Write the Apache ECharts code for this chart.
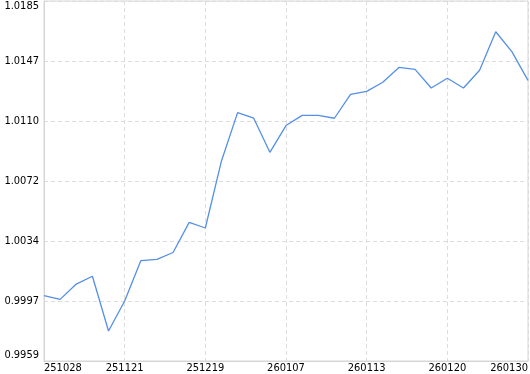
<!DOCTYPE html>
<html>
<head>
<meta charset="utf-8">
<script src="https://cdn.jsdelivr.net/npm/echarts@6/dist/echarts.min.js"></script>
<style>
html,body{margin:0;padding:0;background:#fff;}
#chart{width:530px;height:374px;}
</style>
</head>
<body>
<div id="chart"></div>
<script>
var categories = ['251028','251103','251107','251112','251117','251121','251128','251205','251210','251215',
  '251219','251224','251229','251231','260105','260107','260108','260109','260110','260112',
  '260113','260114','260115','260116','260119','260120','260122','260123','260127','260128','260130'];
var values = [1.0000,0.99977,1.00073,1.00122,0.99778,0.99967,1.00220,1.00228,1.00271,1.00460,
  1.00425,1.00846,1.01149,1.01114,1.00900,1.01068,1.01132,1.01132,1.01114,1.01264,
  1.01283,1.01340,1.01433,1.01421,1.01304,1.01365,1.01304,1.01415,1.01657,1.01532,1.01352];
var yTickLabels = ['0.9959','0.9997','1.0034','1.0072','1.0110','1.0147','1.0185'];
var yMin = 0.9959, yMax = 1.0185;

var chart = echarts.init(document.getElementById('chart'), null, {renderer:'canvas'});
var fontFamily = '"DejaVu Sans Condensed", "Liberation Sans", sans-serif';
chart.setOption({
  animation: false,
  grid: {left: 44, right: 2, top: 1, bottom: 13, show: true, borderColor: '#d6d6d6', borderWidth: 1,
    containLabel: false, outerBoundsMode: 'none'},
  xAxis: {
    type: 'category', data: categories, boundaryGap: false,
    axisLine: {show: true, lineStyle: {color: '#d6d6d6'}},
    axisTick: {show: false},
    axisLabel: {interval: 4, color: '#000', fontSize: 11, fontFamily: fontFamily, margin: 2,
      alignMinLabel: 'left', alignMaxLabel: 'right', hideOverlap: false},
    splitLine: {show: true, interval: 4, lineStyle: {color: '#dcdcdc', type: [4, 3]}}
  },
  yAxis: {
    type: 'value', min: yMin, max: yMax, interval: (yMax - yMin) / 6,
    axisLine: {show: true, lineStyle: {color: '#d6d6d6'}},
    axisTick: {show: false},
    axisLabel: {color: '#000', fontSize: 11, fontFamily: fontFamily, margin: 5,
      verticalAlignMinLabel: 'bottom', verticalAlignMaxLabel: 'top',
      formatter: function (v) {
        var i = Math.round((v - yMin) / ((yMax - yMin) / 6));
        return yTickLabels[i] !== undefined ? yTickLabels[i] : v.toFixed(4);
      }},
    splitLine: {show: true, lineStyle: {color: '#dcdcdc', type: [4, 3]}}
  },
  series: [{
    type: 'line', data: values, symbol: 'none', smooth: false,
    lineStyle: {color: '#5590e6', width: 1.3}
  }]
});
</script>
</body>
</html>
